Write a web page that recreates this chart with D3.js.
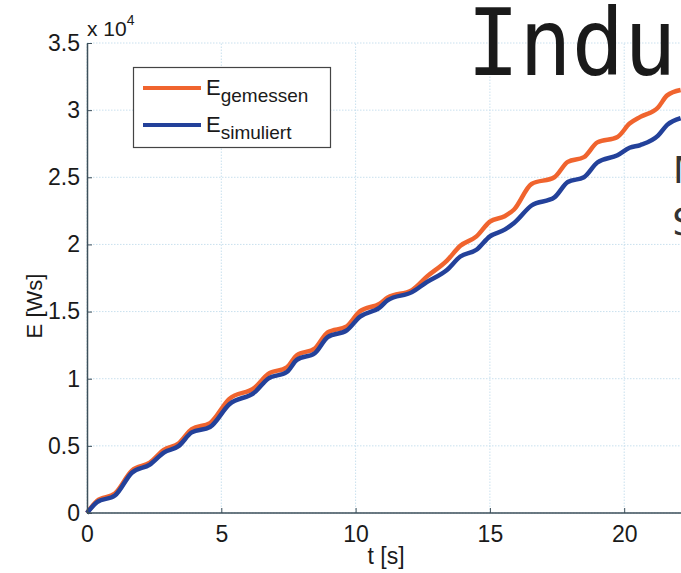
<!DOCTYPE html>
<html>
<head>
<meta charset="utf-8">
<script src="https://cdn.jsdelivr.net/npm/d3@7"></script>
<style>
  body { margin: 0; background: #fff; }
  svg { display: block; }
</style>
</head>
<body>
<svg id="graph" width="681" height="573"></svg>
<script>
// time [s]
const tBlue = [0, 0.37, 1.04, 1.67, 2.34, 2.86, 3.42, 3.9, 4.58, 5.3, 6.25, 6.74, 7.44, 7.81, 8.48, 8.96, 9.67, 10.15, 10.9, 11.2, 12.1, 12.65, 13.4, 13.9, 14.5, 15.0, 15.55, 15.9, 16.55, 17.4, 17.9, 18.5, 19.0, 19.75, 20.2, 20.6, 21.26, 21.6, 22.1];
// E simuliert [Ws]
const eSimuliert = [0, 800, 1300, 3000, 3600, 4500, 5000, 6000, 6400, 8100, 9000, 10000, 10500, 11400, 11900, 13100, 13600, 14600, 15300, 15850, 16450, 17200, 18100, 19100, 19600, 20600, 21100, 21600, 22900, 23500, 24650, 25000, 26100, 26650, 27200, 27400, 28100, 28900, 29400];
// E gemessen [Ws]
const tOrange = tBlue;
const eGemessen = [0, 900, 1450, 3150, 3750, 4700, 5200, 6250, 6700, 8500, 9350, 10350, 10850, 11750, 12250, 13450, 13900, 15000, 15600, 16050, 16600, 17600, 18800, 19900, 20600, 21700, 22100, 22600, 24500, 25000, 26150, 26500, 27600, 28000, 29000, 29500, 30200, 31100, 31500];

const xTicks = [0, 5, 10, 15, 20, 25];
const yTicks = [0, 5000, 10000, 15000, 20000, 25000, 30000, 35000];

const legendItems = [
  { name: 'gemessen', color: '#f0642e' },
  { name: 'simuliert', color: '#23419a' }
];

const svg = d3.select('#graph');
const font = 'Liberation Sans, Arial, sans-serif';
const mono = 'DejaVu Sans Mono, monospace';

const x = d3.scaleLinear().domain([0, 25]).range([87, 758.5]);
const y = d3.scaleLinear().domain([0, 35000]).range([513, 43]);

// Grid
const grid = svg.append('g');
grid.selectAll('.vgrid')
  .data(xTicks)
  .join('line')
  .attr('x1', d => x(d)).attr('x2', d => x(d))
  .attr('y1', y(0)).attr('y2', y(35000))
  .attr('stroke', '#c9e0ee')
  .attr('stroke-width', 1)
  .attr('stroke-dasharray', '1.5,1.5');
grid.selectAll('.hgrid')
  .data(yTicks)
  .join('line')
  .attr('x1', x(0)).attr('x2', 681)
  .attr('y1', d => y(d)).attr('y2', d => y(d))
  .attr('stroke', '#c9e0ee')
  .attr('stroke-width', 1)
  .attr('stroke-dasharray', '1.5,1.5');

// Lines
const line = d3.line()
  .x(d => x(d[0]))
  .y(d => y(d[1]))
  .curve(d3.curveMonotoneX);

svg.append('path')
  .datum(tOrange.map((t, i) => [t, eGemessen[i]]))
  .attr('fill', 'none')
  .attr('stroke', legendItems[0].color)
  .attr('stroke-width', 4.5)
  .attr('stroke-linejoin', 'round')
  .attr('d', line);

svg.append('path')
  .datum(tBlue.map((t, i) => [t, eSimuliert[i]]))
  .attr('fill', 'none')
  .attr('stroke', legendItems[1].color)
  .attr('stroke-width', 4.5)
  .attr('stroke-linejoin', 'round')
  .attr('d', line);

// X - Axis
const xAxis = svg.append('g')
  .attr('transform', `translate(0, ${y(0)})`)
  .call(d3.axisBottom(x).tickValues(xTicks.slice(0, 5)).tickSizeInner(-5).tickSizeOuter(0).tickPadding(13));
xAxis.select('.domain').attr('d', `M${x(0)},0H681`).attr('stroke', '#3d4f5a').attr('stroke-width', 1.5);
xAxis.selectAll('.tick line').attr('stroke', '#3d4f5a');
xAxis.selectAll('.tick text')
  .style('font-family', font).style('font-size', '23px').attr('fill', '#1a1a1a');

// Y - Axis
const yAxis = svg.append('g')
  .attr('transform', `translate(${x(0)}, 0)`)
  .call(d3.axisLeft(y).tickValues(yTicks).tickFormat(d => d / 10000).tickSizeInner(-5).tickSizeOuter(0).tickPadding(7));
yAxis.select('.domain').attr('stroke', '#3d4f5a').attr('stroke-width', 1.5);
yAxis.selectAll('.tick line').attr('stroke', '#3d4f5a');
yAxis.selectAll('.tick text')
  .style('font-family', font).style('font-size', '23px').attr('fill', '#1a1a1a');

// Exponent
const expo = svg.append('text')
  .attr('x', 87).attr('y', 36)
  .style('font-family', font).style('font-size', '21px').attr('fill', '#1a1a1a');
expo.append('tspan').text('x 10');
expo.append('tspan').attr('dy', -11).style('font-size', '14px').text('4');

// Axis labels
svg.append('text')
  .attr('x', 386).attr('y', 564)
  .attr('text-anchor', 'middle')
  .style('font-family', font).style('font-size', '23px').attr('fill', '#1a1a1a')
  .text('t [s]');
svg.append('text')
  .attr('transform', 'translate(42, 306) rotate(-90)')
  .attr('text-anchor', 'middle')
  .style('font-family', font).style('font-size', '22px').attr('fill', '#1a1a1a')
  .text('E [Ws]');

// Legend
const legend = svg.append('g');
legend.append('rect')
  .attr('x', 133.5).attr('y', 67.5).attr('width', 197).attr('height', 80)
  .attr('fill', '#fff').attr('stroke', '#444').attr('stroke-width', 1.2);
legendItems.forEach((item, i) => {
  const ly = 88 + i * 37;
  legend.append('line')
    .attr('x1', 143).attr('x2', 201).attr('y1', ly).attr('y2', ly)
    .attr('stroke', item.color).attr('stroke-width', 4);
  const t = legend.append('text')
    .attr('x', 206).attr('y', ly + 7)
    .style('font-family', font).style('font-size', '22px').attr('fill', '#1a1a1a');
  t.append('tspan').text('E');
  t.append('tspan').attr('dy', 7).style('font-size', '19px').text(item.name);
});

// Slide text behind the figure
svg.append('text')
  .attr('transform', 'translate(467, 75) scale(1, 1.07)')
  .style('font-family', mono).style('font-size', '87px').attr('fill', '#1a1a1a')
  .text('Industrie');
svg.append('text')
  .attr('x', 675).attr('y', 183)
  .style('font-family', mono).style('font-size', '38px').attr('fill', '#333')
  .text('Messung');
svg.append('text')
  .attr('x', 672).attr('y', 235)
  .style('font-family', mono).style('font-size', '38px').attr('fill', '#333')
  .text('Simulation');
</script>
</body>
</html>
